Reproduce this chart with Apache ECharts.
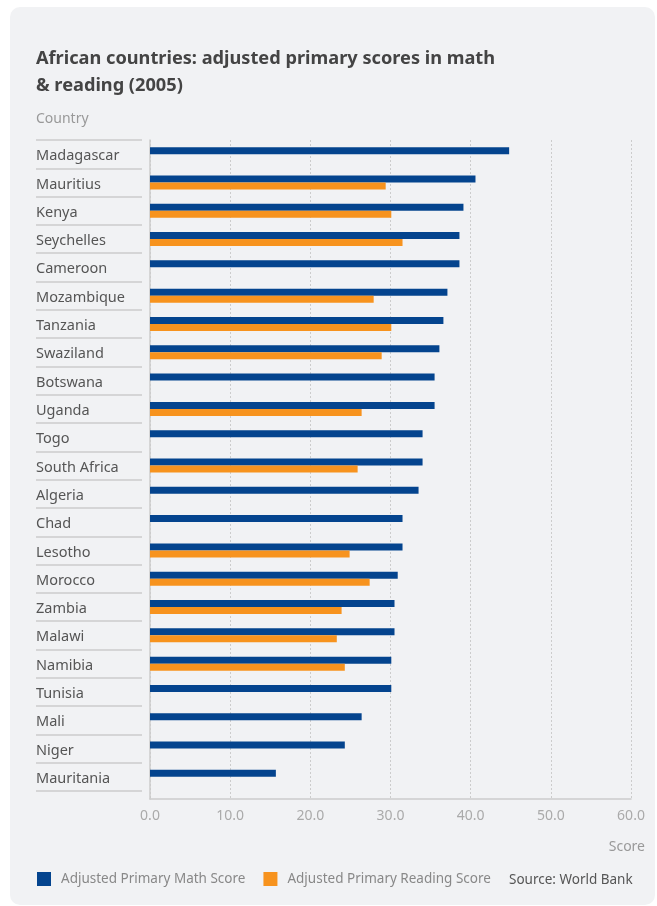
<!DOCTYPE html>
<html>
<head>
<meta charset="utf-8">
<script src="https://cdn.jsdelivr.net/npm/echarts@6/dist/echarts.min.js"></script>
<style>
  html, body { margin: 0; padding: 0; background: #fff; }
  #chart { width: 657px; height: 906px; }
</style>
</head>
<body>
<div id="chart"></div>
<script>
  // countries, top to bottom
  const countries = [
    'Madagascar', 'Mauritius', 'Kenya', 'Seychelles', 'Cameroon', 'Mozambique',
    'Tanzania', 'Swaziland', 'Botswana', 'Uganda', 'Togo', 'South Africa',
    'Algeria', 'Chad', 'Lesotho', 'Morocco', 'Zambia', 'Malawi', 'Namibia',
    'Tunisia', 'Mali', 'Niger', 'Mauritania'
  ]
  const mathScores = [
    44.8, 40.6, 39.1, 38.6, 38.6, 37.1, 36.6, 36.1, 35.5, 35.5, 34.0, 34.0,
    33.5, 31.5, 31.5, 30.9, 30.5, 30.5, 30.1, 30.1, 26.4, 24.3, 15.7
  ]
  // null = no reading score
  const readingScores = [
    null, 29.4, 30.1, 31.5, null, 27.9, 30.1, 28.9, null, 26.4, null, 25.9,
    null, null, 24.9, 27.4, 23.9, 23.3, 24.3, null, null, null, null
  ]
  const xTicks = { min: 0, max: 60, interval: 10 }

  const font = '"Noto Sans", "Open Sans", sans-serif'
  const chart = echarts.init(document.getElementById('chart'))

  chart.setOption({
    backgroundColor: '#fff',
    textStyle: { fontFamily: font },
    graphic: [
      {
        type: 'rect',
        z: -10,
        shape: { x: 10, y: 7, width: 645, height: 898, r: 10 },
        style: { fill: '#f1f2f4' }
      },
      {
        type: 'text',
        left: 509,
        top: 873,
        style: { text: 'Source: World Bank', fill: '#555', fontSize: 13.5, fontFamily: font }
      }
    ],
    title: [
      {
        text: 'African countries: adjusted primary scores in math\n& reading (2005)',
        left: 36,
        top: 45,
        padding: 0,
        textStyle: { fontSize: 18.2, fontWeight: 'bold', color: '#444', lineHeight: 27, fontFamily: font }
      },
      {
        text: 'Country',
        left: 36,
        top: 112,
        padding: 0,
        textStyle: { fontSize: 14, fontWeight: 'normal', color: '#999', fontFamily: font }
      },
      {
        text: 'Score',
        right: 12,
        top: 840,
        padding: 0,
        textStyle: { fontSize: 14, fontWeight: 'normal', color: '#999', fontFamily: font }
      }
    ],
    legend: {
      left: 32,
      top: 867,
      itemWidth: 14,
      itemHeight: 14,
      itemGap: 18,
      icon: 'rect',
      textStyle: { color: '#888', fontSize: 13.5, padding: [0, 0, 0, 5], fontFamily: font },
      data: ['Adjusted Primary Math Score', 'Adjusted Primary Reading Score']
    },
    grid: [
      { left: 150, right: 26, top: 140, height: 651 },  // bars
      { left: 150, right: 26, top: 140, height: 659 },  // value axis + split lines
      { left: 150, right: 26, top: 142, height: 651 }   // country labels, sit a bit low
    ],
    xAxis: [
      { gridIndex: 0, type: 'value', min: xTicks.min, max: xTicks.max, show: false },
      {
        gridIndex: 1,
        type: 'value',
        min: xTicks.min,
        max: xTicks.max,
        interval: xTicks.interval,
        axisLine: { show: true, lineStyle: { color: '#ccc', width: 1.5 } },
        axisTick: { show: false },
        axisLabel: {
          color: '#aaa',
          fontSize: 14,
          margin: 10,
          formatter: (v) => v.toFixed(1)
        },
        splitLine: { show: true, lineStyle: { color: '#ccc', type: [2, 2] } }
      },
      { gridIndex: 2, type: 'value', min: xTicks.min, max: xTicks.max, show: false }
    ],
    yAxis: [
      {
        gridIndex: 0,
        type: 'category',
        inverse: true,
        data: countries,
        axisLine: { show: false },
        axisTick: { show: false },
        axisLabel: { show: false }
      },
      // row separators in the label column
      {
        gridIndex: 0,
        type: 'category',
        inverse: true,
        data: countries,
        position: 'left',
        offset: 8,
        axisLine: { show: false },
        axisTick: { show: true, length: 106, interval: 0, lineStyle: { color: '#ccc', width: 1.5 } },
        axisLabel: { show: false }
      },
      {
        gridIndex: 1,
        type: 'value',
        axisLine: { show: true, lineStyle: { color: '#ccc', width: 1.5 } },
        axisTick: { show: false },
        axisLabel: { show: false },
        splitLine: { show: false }
      },
      {
        gridIndex: 2,
        type: 'category',
        inverse: true,
        data: countries,
        axisLine: { show: false },
        axisTick: { show: false },
        axisLabel: { align: 'left', margin: 114, color: '#555', fontSize: 14.5 }
      }
    ],
    series: [
      {
        name: 'Adjusted Primary Math Score',
        type: 'bar',
        xAxisIndex: 0,
        yAxisIndex: 0,
        data: mathScores,
        barWidth: 7,
        barGap: 0,
        itemStyle: { color: '#04448e' }
      },
      {
        name: 'Adjusted Primary Reading Score',
        type: 'bar',
        xAxisIndex: 0,
        yAxisIndex: 0,
        data: readingScores,
        barWidth: 7,
        barGap: 0,
        itemStyle: { color: '#f7931e' }
      }
    ]
  })
</script>
</body>
</html>
